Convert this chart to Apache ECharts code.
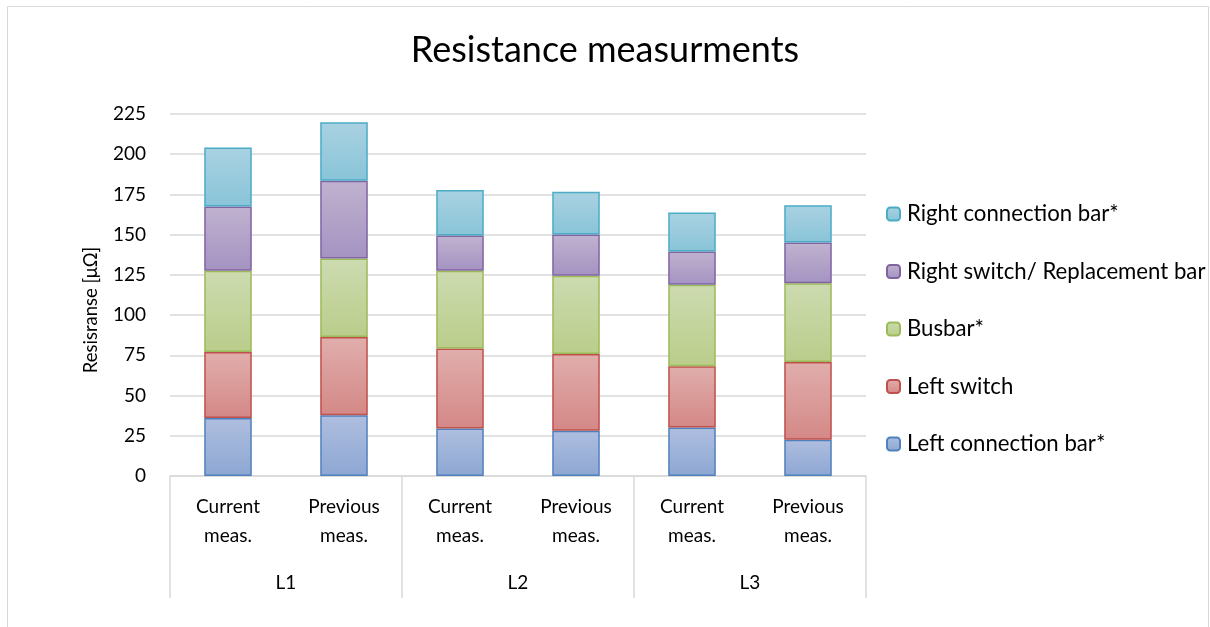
<!DOCTYPE html>
<html>
<head>
<meta charset="utf-8">
<script src="https://cdn.jsdelivr.net/npm/echarts@6/dist/echarts.min.js"></script>
<style>html,body{margin:0;padding:0;background:#fff}#c{width:1210px;height:627px}</style>
</head>
<body>
<div id="c"></div>
<script>
const categories = ['Current\nmeas.', 'Previous\nmeas.', 'Current\nmeas.', 'Previous\nmeas.', 'Current\nmeas.', 'Previous\nmeas.'];
const groups = ['L1', 'L2', 'L3'];
const yTicks = { min: 0, max: 225, interval: 25 };

const leftConnection = [36, 37.7, 29.6, 28.2, 30.1, 22.6];
const leftSwitch = [41, 48.7, 49.6, 47.7, 38.1, 48.3];
const busbar = [50.5, 48.8, 48.3, 48.5, 50.6, 48.9];
const rightSwitch = [40, 48.3, 22, 25.7, 20.7, 25.3];
const rightConnection = [36.7, 36.4, 28.2, 26.5, 24.3, 23.2];

const seriesNames = ['Left connection bar*', 'Left switch', 'Busbar*', 'Right switch/ Replacement bar', 'Right connection bar*'];
const seriesData = [leftConnection, leftSwitch, busbar, rightSwitch, rightConnection];
const palette = [
  { top: '#aebedf', bottom: '#8da7d3', border: '#4f81bd' },
  { top: '#e0aeac', bottom: '#d48886', border: '#c0504d' },
  { top: '#cddbb0', bottom: '#bacd8a', border: '#9bbb59' },
  { top: '#c0b2cf', bottom: '#a493c2', border: '#8064a2' },
  { top: '#a9d2e2', bottom: '#89c4d8', border: '#4bacc6' }
];

const FONT = 'Lato';
const chart = echarts.init(document.getElementById('c'), null, { renderer: 'canvas' });

const series = seriesData.map((d, i) => ({
  name: seriesNames[i],
  type: 'bar',
  stack: 'total',
  data: d,
  barCategoryGap: '59%',
  itemStyle: {
    color: new echarts.graphic.LinearGradient(0, 0, 0, 1, [
      { offset: 0, color: palette[i].top },
      { offset: 1, color: palette[i].bottom }
    ]),
    borderColor: palette[i].border,
    borderWidth: 1.5
  },
  emphasis: { disabled: true }
}));

chart.setOption({
  animation: false,
  backgroundColor: '#ffffff',
  title: {
    text: 'Resistance measurments',
    left: 'center',
    top: 27,
    textStyle: { fontFamily: FONT, fontSize: 36, fontWeight: 'normal', color: '#000' }
  },
  grid: { left: 170, right: 344, top: 114, bottom: 151, containLabel: false },
  legend: {
    orient: 'vertical',
    left: 881,
    top: 198,
    itemWidth: 13,
    itemHeight: 13,
    itemGap: 35.5,
    data: seriesNames.slice().reverse(),
    textStyle: { fontFamily: FONT, fontSize: 22.2, color: '#000', lineHeight: 22, padding: [0, 0, 0, 2] }
  },
  xAxis: [
    {
      type: 'category',
      data: categories,
      gridIndex: 0,
      position: 'bottom',
      axisLine: { show: true, lineStyle: { color: '#d9d9d9', width: 1.5 } },
      axisTick: { show: false },
      axisLabel: { interval: 0, margin: 16, fontFamily: FONT, fontSize: 19, lineHeight: 29, color: '#000' }
    },
    {
      type: 'category',
      data: groups,
      gridIndex: 0,
      position: 'bottom',
      axisLine: { show: false },
      axisTick: { show: true, length: 122, lineStyle: { color: '#d9d9d9', width: 1.5 } },
      axisLabel: { interval: 0, margin: 97, fontFamily: FONT, fontSize: 19, color: '#000' }
    }
  ],
  yAxis: {
    type: 'value',
    min: yTicks.min,
    max: yTicks.max,
    interval: yTicks.interval,
    name: 'Resisranse [μΩ]',
    nameLocation: 'middle',
    nameGap: 69,
    nameTextStyle: { fontFamily: FONT, fontSize: 18.5, color: '#000', padding: [0, 0, 0, -30] },
    axisLine: { show: false },
    axisTick: { show: false },
    splitLine: { lineStyle: { color: '#d9d9d9', width: 1.5 } },
    axisLabel: { margin: 24, fontFamily: FONT, fontSize: 19, color: '#000' }
  },
  graphic: [
    {
      type: 'rect',
      shape: { x: 7.5, y: 6.5, width: 1201, height: 640 },
      style: { fill: 'none', stroke: '#d9d9d9', lineWidth: 1 },
      silent: true
    }
  ],
  series: series
});
</script>
</body>
</html>
